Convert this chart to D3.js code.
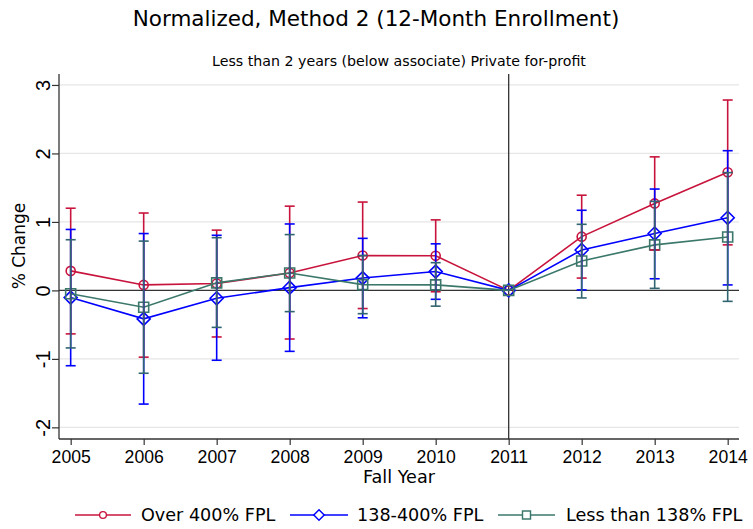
<!DOCTYPE html>
<html>
<head>
<meta charset="utf-8">
<script src="https://d3js.org/d3.v7.min.js"></script>
<style>
  body { margin: 0; background: #fff; }
  svg { display: block; font-family: "DejaVu Sans", sans-serif; }
</style>
</head>
<body>
<svg id="chart" width="753" height="529"></svg>
<script>
const years = [2005, 2006, 2007, 2008, 2009, 2010, 2011, 2012, 2013, 2014];
const yTicks = [-2, -1, 0, 1, 2, 3];

const over400 = [0.285, 0.08, 0.10, 0.255, 0.51, 0.505, 0, 0.785, 1.27, 1.725];
const over400Lo = [-0.635, -0.975, -0.68, -0.71, -0.265, -0.02, 0, 0.18, 0.59, 0.665];
const over400Hi = [1.20, 1.13, 0.88, 1.23, 1.29, 1.03, 0, 1.39, 1.95, 2.78];

const mid = [-0.105, -0.416, -0.115, 0.04, 0.18, 0.275, 0, 0.59, 0.83, 1.06];
const midLo = [-1.10, -1.66, -1.02, -0.89, -0.40, -0.13, 0, 0.007, 0.17, 0.08];
const midHi = [0.89, 0.83, 0.805, 0.97, 0.76, 0.68, 0, 1.17, 1.48, 2.04];

const low = [-0.05, -0.246, 0.11, 0.255, 0.085, 0.08, 0, 0.43, 0.665, 0.78];
const lowLo = [-0.84, -1.21, -0.54, -0.31, -0.34, -0.23, 0, -0.11, 0.03, -0.16];
const lowHi = [0.74, 0.72, 0.77, 0.815, 0.51, 0.405, 0, 0.965, 1.30, 1.72];

const seriesNames = ["Over 400% FPL", "138-400% FPL", "Less than 138% FPL"];

const svg = d3.select("#chart");
const L = 59, R = 739, T = 74, B = 439;

const x = d3.scaleLinear().domain([2004.84, 2014.155]).range([L, R]);
const y = d3.scaleLinear().domain([-2.17, 3.16]).range([B, T]);

const colRed = "#c8143c", colBlue = "#0000ff", colGreen = "#3b786b", colGreenErr = "#2f6470";

// Title & subtitle
svg.append("text").attr("x", 376).attr("y", 26).attr("text-anchor", "middle")
  .attr("font-size", 21.5).attr("fill", "#000").text("Normalized, Method 2 (12-Month Enrollment)");
svg.append("text").attr("x", 399).attr("y", 66).attr("text-anchor", "middle")
  .attr("font-size", 14.2).attr("fill", "#000").text("Less than 2 years (below associate) Private for-profit");

// gridlines
svg.append("g").selectAll("line").data(yTicks.filter(d => d !== 0)).join("line")
  .attr("x1", L).attr("x2", R).attr("y1", d => y(d)).attr("y2", d => y(d))
  .attr("stroke", "#e6e6e6").attr("stroke-width", 1.3);

// zero line and 2011 line
svg.append("line").attr("x1", L).attr("x2", R).attr("y1", y(0)).attr("y2", y(0))
  .attr("stroke", "#333").attr("stroke-width", 1.3);
svg.append("line").attr("x1", x(2011)).attr("x2", x(2011)).attr("y1", T).attr("y2", B)
  .attr("stroke", "#333").attr("stroke-width", 1.3);

// axes
const fmt = d => String(d);
const yAxis = d3.axisLeft(y).tickValues(yTicks).tickSize(7).tickFormat(fmt);
const gy = svg.append("g").attr("transform", `translate(${L},0)`).call(yAxis);
gy.select(".domain").attr("stroke", "#333").attr("stroke-width", 1.3).attr("d", `M0,${T}V${B}`);
gy.selectAll(".tick line").attr("stroke", "#333").attr("stroke-width", 1.2);
gy.selectAll(".tick text").attr("font-size", 20).attr("fill", "#000")
  .attr("text-anchor", "middle").attr("dy", null).attr("x", null)
  .attr("dominant-baseline", "central")
  .attr("transform", "translate(-16,0) rotate(-90)");

const xAxis = d3.axisBottom(x).tickValues(years).tickSize(6).tickFormat(fmt);
const gx = svg.append("g").attr("transform", `translate(0,${B})`).call(xAxis);
gx.select(".domain").attr("d", `M${L},0H${R}`).attr("stroke", "#333").attr("stroke-width", 1.3);
gx.selectAll(".tick line").attr("stroke", "#333").attr("stroke-width", 1.2);
gx.selectAll(".tick text").attr("font-size", 17.6).attr("fill", "#000").attr("dy", null).attr("y", 24);

// axis titles
svg.append("text").attr("x", 399).attr("y", 483).attr("text-anchor", "middle")
  .attr("font-size", 17.6).attr("fill", "#000").text("Fall Year");
svg.append("text").attr("transform", "translate(25,246) rotate(-90)").attr("text-anchor", "middle")
  .attr("font-size", 17).attr("fill", "#000").text("% Change");

// series
const series = [
  { vals: over400, lo: over400Lo, hi: over400Hi, color: colRed, err: colRed, marker: "circle" },
  { vals: mid, lo: midLo, hi: midHi, color: colBlue, err: colBlue, marker: "diamond" },
  { vals: low, lo: lowLo, hi: lowHi, color: colGreen, err: colGreenErr, marker: "square" }
];

function markerPath(type) {
  if (type === "circle") return d3.symbol(d3.symbolCircle, 64)();
  if (type === "diamond") return "M0,-6.5L6.5,0L0,6.5L-6.5,0Z";
  return "M-5,-5H5V5H-5Z";
}

const line = d3.line().x((d, i) => x(years[i])).y(d => y(d));
series.forEach(s => {
  svg.append("path").datum(s.vals).attr("d", line).attr("fill", "none")
    .attr("stroke", s.color).attr("stroke-width", 1.6);
  svg.append("g").selectAll("path").data(s.vals).join("path")
    .attr("d", markerPath(s.marker))
    .attr("transform", (d, i) => `translate(${x(years[i])},${y(d)})`)
    .attr("fill", "none").attr("stroke", s.color).attr("stroke-width", 1.6);
});

// error bars (caps)
series.forEach(s => {
  const g = svg.append("g").attr("stroke", s.err).attr("stroke-width", 1.6);
  years.forEach((yr, i) => {
    if (s.lo[i] === s.hi[i]) return;
    const cx = x(yr);
    g.append("line").attr("x1", cx).attr("x2", cx).attr("y1", y(s.lo[i])).attr("y2", y(s.hi[i]));
    g.append("line").attr("x1", cx - 5).attr("x2", cx + 5).attr("y1", y(s.lo[i])).attr("y2", y(s.lo[i]));
    g.append("line").attr("x1", cx - 5).attr("x2", cx + 5).attr("y1", y(s.hi[i])).attr("y2", y(s.hi[i]));
  });
});

// legend
const legendItems = [
  { x1: 75, x2: 131, text: 141, color: colRed, marker: "circle", size: 0.75 },
  { x1: 290, x2: 348, text: 357, color: colBlue, marker: "diamond", size: 0.8 },
  { x1: 498, x2: 555, text: 566, color: colGreen, marker: "square", size: 0.8 }
];
const ly = 515;
legendItems.forEach((it, i) => {
  svg.append("line").attr("x1", it.x1).attr("x2", it.x2).attr("y1", ly).attr("y2", ly)
    .attr("stroke", it.color).attr("stroke-width", 1.6);
  svg.append("path").attr("d", markerPath(it.marker))
    .attr("transform", `translate(${(it.x1 + it.x2) / 2},${ly}) scale(${it.size})`)
    .attr("fill", "#fff").attr("stroke", it.color).attr("stroke-width", 1.8);
  svg.append("text").attr("x", it.text).attr("y", ly).attr("dominant-baseline", "central")
    .attr("font-size", 17.6).attr("fill", "#000").text(seriesNames[i]);
});
</script>
</body>
</html>
